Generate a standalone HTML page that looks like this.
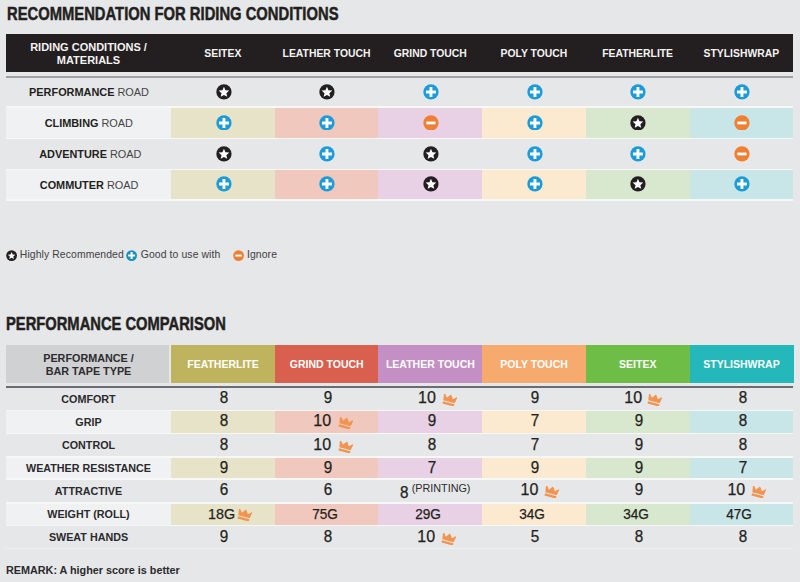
<!DOCTYPE html><html><head><meta charset="utf-8"><style>
*{margin:0;padding:0;box-sizing:border-box}
html,body{width:800px;height:582px;overflow:hidden;background:#e6e7e9;font-family:"Liberation Sans",sans-serif;color:#231f20}
.a{position:absolute}
.title{position:absolute;font-weight:bold;font-size:19px;line-height:1;white-space:nowrap;transform-origin:0 0;color:#231f20;-webkit-text-stroke:0.5px #231f20}
.hd{position:absolute;font-weight:bold;color:#f4f3f2;font-size:10.4px;line-height:12.4px;text-align:center;white-space:nowrap}
.cell{position:absolute;display:flex;align-items:center;justify-content:center;white-space:nowrap}
.lab{font-size:10.9px;color:#444446}
.lab b{color:#231f20}
.t{position:absolute;white-space:nowrap;line-height:1}
.num{font-size:16px;color:#231f20;transform:scaleX(0.95);-webkit-text-stroke:0.25px #231f20}
.hd2{position:absolute;font-weight:bold;color:#fff;font-size:10.5px;padding-top:1px;text-align:center;white-space:nowrap;display:flex;align-items:center;justify-content:center}
.lab2{font-size:10.75px;font-weight:bold;color:#2a2a2c}
</style></head><body>

<div class="title" style="left:7px;top:4.2px;transform:scaleX(0.778)">RECOMMENDATION FOR RIDING CONDITIONS</div>
<div class="a" style="left:6.00px;top:34.00px;width:787.00px;height:38.00px;background:#231f20;"></div>
<div class="hd" style="left:6px;top:41.2px;width:165px;font-size:11px;line-height:12.6px">RIDING CONDITIONS /<br>MATERIALS</div>
<div class="hd" style="left:171.00px;top:48px;width:103.70px">SEITEX</div>
<div class="hd" style="left:274.70px;top:48px;width:103.70px">LEATHER TOUCH</div>
<div class="hd" style="left:378.40px;top:48px;width:103.70px">GRIND TOUCH</div>
<div class="hd" style="left:482.10px;top:48px;width:103.70px">POLY TOUCH</div>
<div class="hd" style="left:585.80px;top:48px;width:103.70px">FEATHERLITE</div>
<div class="hd" style="left:689.50px;top:48px;width:103.70px">STYLISHWRAP</div>
<div class="a" style="left:6.00px;top:76.00px;width:787.00px;height:2.00px;background:#a0a1a3;"></div>
<div class="cell lab" style="left:6.50px;top:78.00px;width:165px;height:28.30px"><span><b>PERFORMANCE</b> ROAD</span></div>
<div class="cell" style="left:171.80px;top:77.60px;width:103.70px;height:28.30px"><svg style="width:15.9px;height:15.9px;display:block" viewBox="0 0 16 16"><circle cx="8" cy="8" r="7.7" fill="#231f20"/><path d="M8.00 2.80 L9.50 6.34 L13.33 6.67 L10.43 9.19 L11.29 12.93 L8.00 10.95 L4.71 12.93 L5.57 9.19 L2.67 6.67 L6.50 6.34 Z" fill="#fff"/></svg></div>
<div class="cell" style="left:275.50px;top:77.60px;width:103.70px;height:28.30px"><svg style="width:15.9px;height:15.9px;display:block" viewBox="0 0 16 16"><circle cx="8" cy="8" r="7.7" fill="#231f20"/><path d="M8.00 2.80 L9.50 6.34 L13.33 6.67 L10.43 9.19 L11.29 12.93 L8.00 10.95 L4.71 12.93 L5.57 9.19 L2.67 6.67 L6.50 6.34 Z" fill="#fff"/></svg></div>
<div class="cell" style="left:379.20px;top:77.60px;width:103.70px;height:28.30px"><svg style="width:15.9px;height:15.9px;display:block" viewBox="0 0 16 16"><circle cx="8" cy="8" r="7.7" fill="#1b9bd7"/><path d="M8 3.0 V13.0 M3.0 8 H13.0" stroke="#fff" stroke-width="2.9"/></svg></div>
<div class="cell" style="left:482.90px;top:77.60px;width:103.70px;height:28.30px"><svg style="width:15.9px;height:15.9px;display:block" viewBox="0 0 16 16"><circle cx="8" cy="8" r="7.7" fill="#1b9bd7"/><path d="M8 3.0 V13.0 M3.0 8 H13.0" stroke="#fff" stroke-width="2.9"/></svg></div>
<div class="cell" style="left:586.60px;top:77.60px;width:103.70px;height:28.30px"><svg style="width:15.9px;height:15.9px;display:block" viewBox="0 0 16 16"><circle cx="8" cy="8" r="7.7" fill="#1b9bd7"/><path d="M8 3.0 V13.0 M3.0 8 H13.0" stroke="#fff" stroke-width="2.9"/></svg></div>
<div class="cell" style="left:690.30px;top:77.60px;width:103.70px;height:28.30px"><svg style="width:15.9px;height:15.9px;display:block" viewBox="0 0 16 16"><circle cx="8" cy="8" r="7.7" fill="#1b9bd7"/><path d="M8 3.0 V13.0 M3.0 8 H13.0" stroke="#fff" stroke-width="2.9"/></svg></div>
<div class="a" style="left:6.00px;top:106.30px;width:787.00px;height:33.20px;background:#f7f8f6;"></div>
<div class="a" style="left:6.00px;top:107.90px;width:165.00px;height:30.00px;background:#f0f1f3;"></div>
<div class="a" style="left:171.00px;top:107.90px;width:104.30px;height:30.00px;background:#e7e3c9;"></div>
<div class="a" style="left:274.70px;top:107.90px;width:104.30px;height:30.00px;background:#f1c8bd;"></div>
<div class="a" style="left:378.40px;top:107.90px;width:104.30px;height:30.00px;background:#e8d0e5;"></div>
<div class="a" style="left:482.10px;top:107.90px;width:104.30px;height:30.00px;background:#fcead0;"></div>
<div class="a" style="left:585.80px;top:107.90px;width:104.30px;height:30.00px;background:#d7e8ce;"></div>
<div class="a" style="left:689.50px;top:107.90px;width:103.70px;height:30.00px;background:#c8e5e7;"></div>
<div class="cell lab" style="left:6.30px;top:106.30px;width:165px;height:33.20px"><span><b>CLIMBING</b> ROAD</span></div>
<div class="cell" style="left:171.80px;top:105.90px;width:103.70px;height:33.20px"><svg style="width:15.9px;height:15.9px;display:block" viewBox="0 0 16 16"><circle cx="8" cy="8" r="7.7" fill="#1b9bd7"/><path d="M8 3.0 V13.0 M3.0 8 H13.0" stroke="#fff" stroke-width="2.9"/></svg></div>
<div class="cell" style="left:275.50px;top:105.90px;width:103.70px;height:33.20px"><svg style="width:15.9px;height:15.9px;display:block" viewBox="0 0 16 16"><circle cx="8" cy="8" r="7.7" fill="#1b9bd7"/><path d="M8 3.0 V13.0 M3.0 8 H13.0" stroke="#fff" stroke-width="2.9"/></svg></div>
<div class="cell" style="left:379.20px;top:105.90px;width:103.70px;height:33.20px"><svg style="width:15.9px;height:15.9px;display:block" viewBox="0 0 16 16"><circle cx="8" cy="8" r="7.7" fill="#ef7f33"/><path d="M3.4 8 H12.6" stroke="#fff" stroke-width="2.8"/></svg></div>
<div class="cell" style="left:482.90px;top:105.90px;width:103.70px;height:33.20px"><svg style="width:15.9px;height:15.9px;display:block" viewBox="0 0 16 16"><circle cx="8" cy="8" r="7.7" fill="#1b9bd7"/><path d="M8 3.0 V13.0 M3.0 8 H13.0" stroke="#fff" stroke-width="2.9"/></svg></div>
<div class="cell" style="left:586.60px;top:105.90px;width:103.70px;height:33.20px"><svg style="width:15.9px;height:15.9px;display:block" viewBox="0 0 16 16"><circle cx="8" cy="8" r="7.7" fill="#231f20"/><path d="M8.00 2.80 L9.50 6.34 L13.33 6.67 L10.43 9.19 L11.29 12.93 L8.00 10.95 L4.71 12.93 L5.57 9.19 L2.67 6.67 L6.50 6.34 Z" fill="#fff"/></svg></div>
<div class="cell" style="left:690.30px;top:105.90px;width:103.70px;height:33.20px"><svg style="width:15.9px;height:15.9px;display:block" viewBox="0 0 16 16"><circle cx="8" cy="8" r="7.7" fill="#ef7f33"/><path d="M3.4 8 H12.6" stroke="#fff" stroke-width="2.8"/></svg></div>
<div class="cell lab" style="left:7.80px;top:139.50px;width:165px;height:29.10px"><span><b>ADVENTURE</b> ROAD</span></div>
<div class="cell" style="left:171.80px;top:139.10px;width:103.70px;height:29.10px"><svg style="width:15.9px;height:15.9px;display:block" viewBox="0 0 16 16"><circle cx="8" cy="8" r="7.7" fill="#231f20"/><path d="M8.00 2.80 L9.50 6.34 L13.33 6.67 L10.43 9.19 L11.29 12.93 L8.00 10.95 L4.71 12.93 L5.57 9.19 L2.67 6.67 L6.50 6.34 Z" fill="#fff"/></svg></div>
<div class="cell" style="left:275.50px;top:139.10px;width:103.70px;height:29.10px"><svg style="width:15.9px;height:15.9px;display:block" viewBox="0 0 16 16"><circle cx="8" cy="8" r="7.7" fill="#1b9bd7"/><path d="M8 3.0 V13.0 M3.0 8 H13.0" stroke="#fff" stroke-width="2.9"/></svg></div>
<div class="cell" style="left:379.20px;top:139.10px;width:103.70px;height:29.10px"><svg style="width:15.9px;height:15.9px;display:block" viewBox="0 0 16 16"><circle cx="8" cy="8" r="7.7" fill="#231f20"/><path d="M8.00 2.80 L9.50 6.34 L13.33 6.67 L10.43 9.19 L11.29 12.93 L8.00 10.95 L4.71 12.93 L5.57 9.19 L2.67 6.67 L6.50 6.34 Z" fill="#fff"/></svg></div>
<div class="cell" style="left:482.90px;top:139.10px;width:103.70px;height:29.10px"><svg style="width:15.9px;height:15.9px;display:block" viewBox="0 0 16 16"><circle cx="8" cy="8" r="7.7" fill="#1b9bd7"/><path d="M8 3.0 V13.0 M3.0 8 H13.0" stroke="#fff" stroke-width="2.9"/></svg></div>
<div class="cell" style="left:586.60px;top:139.10px;width:103.70px;height:29.10px"><svg style="width:15.9px;height:15.9px;display:block" viewBox="0 0 16 16"><circle cx="8" cy="8" r="7.7" fill="#1b9bd7"/><path d="M8 3.0 V13.0 M3.0 8 H13.0" stroke="#fff" stroke-width="2.9"/></svg></div>
<div class="cell" style="left:690.30px;top:139.10px;width:103.70px;height:29.10px"><svg style="width:15.9px;height:15.9px;display:block" viewBox="0 0 16 16"><circle cx="8" cy="8" r="7.7" fill="#ef7f33"/><path d="M3.4 8 H12.6" stroke="#fff" stroke-width="2.8"/></svg></div>
<div class="a" style="left:6.00px;top:168.60px;width:787.00px;height:32.20px;background:#f7f8f6;"></div>
<div class="a" style="left:6.00px;top:170.20px;width:165.00px;height:29.00px;background:#f0f1f3;"></div>
<div class="a" style="left:171.00px;top:170.20px;width:104.30px;height:29.00px;background:#e7e3c9;"></div>
<div class="a" style="left:274.70px;top:170.20px;width:104.30px;height:29.00px;background:#f1c8bd;"></div>
<div class="a" style="left:378.40px;top:170.20px;width:104.30px;height:29.00px;background:#e8d0e5;"></div>
<div class="a" style="left:482.10px;top:170.20px;width:104.30px;height:29.00px;background:#fcead0;"></div>
<div class="a" style="left:585.80px;top:170.20px;width:104.30px;height:29.00px;background:#d7e8ce;"></div>
<div class="a" style="left:689.50px;top:170.20px;width:103.70px;height:29.00px;background:#c8e5e7;"></div>
<div class="cell lab" style="left:6.60px;top:168.60px;width:165px;height:32.20px"><span><b>COMMUTER</b> ROAD</span></div>
<div class="cell" style="left:171.80px;top:168.20px;width:103.70px;height:32.20px"><svg style="width:15.9px;height:15.9px;display:block" viewBox="0 0 16 16"><circle cx="8" cy="8" r="7.7" fill="#1b9bd7"/><path d="M8 3.0 V13.0 M3.0 8 H13.0" stroke="#fff" stroke-width="2.9"/></svg></div>
<div class="cell" style="left:275.50px;top:168.20px;width:103.70px;height:32.20px"><svg style="width:15.9px;height:15.9px;display:block" viewBox="0 0 16 16"><circle cx="8" cy="8" r="7.7" fill="#1b9bd7"/><path d="M8 3.0 V13.0 M3.0 8 H13.0" stroke="#fff" stroke-width="2.9"/></svg></div>
<div class="cell" style="left:379.20px;top:168.20px;width:103.70px;height:32.20px"><svg style="width:15.9px;height:15.9px;display:block" viewBox="0 0 16 16"><circle cx="8" cy="8" r="7.7" fill="#231f20"/><path d="M8.00 2.80 L9.50 6.34 L13.33 6.67 L10.43 9.19 L11.29 12.93 L8.00 10.95 L4.71 12.93 L5.57 9.19 L2.67 6.67 L6.50 6.34 Z" fill="#fff"/></svg></div>
<div class="cell" style="left:482.90px;top:168.20px;width:103.70px;height:32.20px"><svg style="width:15.9px;height:15.9px;display:block" viewBox="0 0 16 16"><circle cx="8" cy="8" r="7.7" fill="#1b9bd7"/><path d="M8 3.0 V13.0 M3.0 8 H13.0" stroke="#fff" stroke-width="2.9"/></svg></div>
<div class="cell" style="left:586.60px;top:168.20px;width:103.70px;height:32.20px"><svg style="width:15.9px;height:15.9px;display:block" viewBox="0 0 16 16"><circle cx="8" cy="8" r="7.7" fill="#231f20"/><path d="M8.00 2.80 L9.50 6.34 L13.33 6.67 L10.43 9.19 L11.29 12.93 L8.00 10.95 L4.71 12.93 L5.57 9.19 L2.67 6.67 L6.50 6.34 Z" fill="#fff"/></svg></div>
<div class="cell" style="left:690.30px;top:168.20px;width:103.70px;height:32.20px"><svg style="width:15.9px;height:15.9px;display:block" viewBox="0 0 16 16"><circle cx="8" cy="8" r="7.7" fill="#1b9bd7"/><path d="M8 3.0 V13.0 M3.0 8 H13.0" stroke="#fff" stroke-width="2.9"/></svg></div>
<div class="a" style="left:5.6px;top:250.0px"><svg style="width:11.2px;height:11.2px;display:block" viewBox="0 0 16 16"><circle cx="8" cy="8" r="7.7" fill="#231f20"/><path d="M8.00 2.80 L9.50 6.34 L13.33 6.67 L10.43 9.19 L11.29 12.93 L8.00 10.95 L4.71 12.93 L5.57 9.19 L2.67 6.67 L6.50 6.34 Z" fill="#fff"/></svg></div>
<div class="t" style="left:19.8px;top:250.2px;font-size:10.4px;letter-spacing:0.1px;color:#404042">Highly Recommended</div>
<div class="a" style="left:126.4px;top:250.4px"><svg style="width:11.2px;height:11.2px;display:block" viewBox="0 0 16 16"><circle cx="8" cy="8" r="7.7" fill="#1a8fba"/><path d="M8 3.0 V13.0 M3.0 8 H13.0" stroke="#fff" stroke-width="2.9"/></svg></div>
<div class="t" style="left:140.8px;top:250.2px;font-size:10.4px;letter-spacing:0.1px;color:#404042">Good to use with</div>
<div class="a" style="left:233px;top:250.3px"><svg style="width:11.2px;height:11.2px;display:block" viewBox="0 0 16 16"><circle cx="8" cy="8" r="7.7" fill="#ef7f33"/><path d="M3.4 8 H12.6" stroke="#fff" stroke-width="2.8"/></svg></div>
<div class="t" style="left:247px;top:250.2px;font-size:10.4px;letter-spacing:0.1px;color:#404042">Ignore</div>
<div class="title" style="left:6px;top:313.6px;transform:scaleX(0.775)">PERFORMANCE COMPARISON</div>
<div class="a" style="left:6.00px;top:344.70px;width:162.50px;height:38.30px;background:#d0d1d3;"></div>
<div class="hd" style="left:6px;top:351.5px;width:165px;color:#2d2d2f;line-height:13px;font-size:10.8px">PERFORMANCE /<br>BAR TAPE TYPE</div>
<div class="hd2" style="left:171.00px;top:344.7px;width:104.00px;height:38.3px;background:#bfb35d">FEATHERLITE</div>
<div class="hd2" style="left:274.70px;top:344.7px;width:104.00px;height:38.3px;background:#d9604f">GRIND TOUCH</div>
<div class="hd2" style="left:378.40px;top:344.7px;width:104.00px;height:38.3px;background:#c38fc4">LEATHER TOUCH</div>
<div class="hd2" style="left:482.10px;top:344.7px;width:104.00px;height:38.3px;background:#f6aa6d">POLY TOUCH</div>
<div class="hd2" style="left:585.80px;top:344.7px;width:104.00px;height:38.3px;background:#6ebd46">SEITEX</div>
<div class="hd2" style="left:689.50px;top:344.7px;width:104.00px;height:38.3px;background:#24b8bb">STYLISHWRAP</div>
<div class="a" style="left:6.00px;top:386.00px;width:787.00px;height:2.20px;background:#6b6c6f;"></div>
<div class="cell lab2" style="left:6px;top:388.20px;width:165px;height:21.40px">COMFORT</div>
<div class="t num" style="font-size:16px;left:174.25px;width:100px;text-align:center;top:390.20px">8</div>
<div class="t num" style="font-size:16px;left:277.95px;width:100px;text-align:center;top:390.20px">9</div>
<div class="t num" style="font-size:16px;left:418.05px;top:390.20px;transform:none">10</div>
<svg style="position:absolute;width:17px;height:12px;left:440.70px;top:394.10px" viewBox="0 0 15 11"><g transform="rotate(15 7.5 5.5)" fill="#f19450"><path d="M1.2 1.6 Q1.3 0.5 2.2 1.1 L4.7 4 L6.7 1.1 Q7.5 0.2 8.3 1.1 L10.3 4 L12.8 1.6 Q13.9 0.9 13.8 2 L12.9 7.2 H2.1 Z"/><path d="M2.1 8.1 H12.9 V10.3 H2.1 Z"/></g></svg>
<div class="t num" style="font-size:16px;left:485.35px;width:100px;text-align:center;top:390.20px">9</div>
<div class="t num" style="font-size:16px;left:624.30px;top:390.20px;transform:none">10</div>
<svg style="position:absolute;width:17px;height:12px;left:646.30px;top:394.10px" viewBox="0 0 15 11"><g transform="rotate(15 7.5 5.5)" fill="#f19450"><path d="M1.2 1.6 Q1.3 0.5 2.2 1.1 L4.7 4 L6.7 1.1 Q7.5 0.2 8.3 1.1 L10.3 4 L12.8 1.6 Q13.9 0.9 13.8 2 L12.9 7.2 H2.1 Z"/><path d="M2.1 8.1 H12.9 V10.3 H2.1 Z"/></g></svg>
<div class="t num" style="font-size:16px;left:692.75px;width:100px;text-align:center;top:390.20px">8</div>
<div class="a" style="left:6.00px;top:409.60px;width:787.00px;height:24.80px;background:#f7f8f6;"></div>
<div class="a" style="left:6.00px;top:411.20px;width:165.00px;height:21.60px;background:#f0f1f3;"></div>
<div class="a" style="left:171.00px;top:411.20px;width:104.30px;height:21.60px;background:#e7e3c9;"></div>
<div class="a" style="left:274.70px;top:411.20px;width:104.30px;height:21.60px;background:#f1c8bd;"></div>
<div class="a" style="left:378.40px;top:411.20px;width:104.30px;height:21.60px;background:#e8d0e5;"></div>
<div class="a" style="left:482.10px;top:411.20px;width:104.30px;height:21.60px;background:#fcead0;"></div>
<div class="a" style="left:585.80px;top:411.20px;width:104.30px;height:21.60px;background:#d7e8ce;"></div>
<div class="a" style="left:689.50px;top:411.20px;width:103.70px;height:21.60px;background:#c8e5e7;"></div>
<div class="cell lab2" style="left:6px;top:409.60px;width:165px;height:24.80px">GRIP</div>
<div class="t num" style="font-size:16px;left:174.25px;width:100px;text-align:center;top:413.30px">8</div>
<div class="t num" style="font-size:16px;left:313.30px;top:413.30px;transform:none">10</div>
<svg style="position:absolute;width:17px;height:12px;left:337.30px;top:417.20px" viewBox="0 0 15 11"><g transform="rotate(15 7.5 5.5)" fill="#f19450"><path d="M1.2 1.6 Q1.3 0.5 2.2 1.1 L4.7 4 L6.7 1.1 Q7.5 0.2 8.3 1.1 L10.3 4 L12.8 1.6 Q13.9 0.9 13.8 2 L12.9 7.2 H2.1 Z"/><path d="M2.1 8.1 H12.9 V10.3 H2.1 Z"/></g></svg>
<div class="t num" style="font-size:16px;left:381.65px;width:100px;text-align:center;top:413.30px">9</div>
<div class="t num" style="font-size:16px;left:485.35px;width:100px;text-align:center;top:413.30px">7</div>
<div class="t num" style="font-size:16px;left:589.05px;width:100px;text-align:center;top:413.30px">9</div>
<div class="t num" style="font-size:16px;left:692.75px;width:100px;text-align:center;top:413.30px">8</div>
<div class="cell lab2" style="left:6px;top:434.40px;width:165px;height:22.00px">CONTROL</div>
<div class="t num" style="font-size:16px;left:174.25px;width:100px;text-align:center;top:436.70px">8</div>
<div class="t num" style="font-size:16px;left:313.30px;top:436.70px;transform:none">10</div>
<svg style="position:absolute;width:17px;height:12px;left:337.30px;top:440.60px" viewBox="0 0 15 11"><g transform="rotate(15 7.5 5.5)" fill="#f19450"><path d="M1.2 1.6 Q1.3 0.5 2.2 1.1 L4.7 4 L6.7 1.1 Q7.5 0.2 8.3 1.1 L10.3 4 L12.8 1.6 Q13.9 0.9 13.8 2 L12.9 7.2 H2.1 Z"/><path d="M2.1 8.1 H12.9 V10.3 H2.1 Z"/></g></svg>
<div class="t num" style="font-size:16px;left:381.65px;width:100px;text-align:center;top:436.70px">8</div>
<div class="t num" style="font-size:16px;left:485.35px;width:100px;text-align:center;top:436.70px">7</div>
<div class="t num" style="font-size:16px;left:589.05px;width:100px;text-align:center;top:436.70px">9</div>
<div class="t num" style="font-size:16px;left:692.75px;width:100px;text-align:center;top:436.70px">8</div>
<div class="a" style="left:6.00px;top:456.40px;width:787.00px;height:23.60px;background:#f7f8f6;"></div>
<div class="a" style="left:6.00px;top:458.00px;width:165.00px;height:20.40px;background:#f0f1f3;"></div>
<div class="a" style="left:171.00px;top:458.00px;width:104.30px;height:20.40px;background:#e7e3c9;"></div>
<div class="a" style="left:274.70px;top:458.00px;width:104.30px;height:20.40px;background:#f1c8bd;"></div>
<div class="a" style="left:378.40px;top:458.00px;width:104.30px;height:20.40px;background:#e8d0e5;"></div>
<div class="a" style="left:482.10px;top:458.00px;width:104.30px;height:20.40px;background:#fcead0;"></div>
<div class="a" style="left:585.80px;top:458.00px;width:104.30px;height:20.40px;background:#d7e8ce;"></div>
<div class="a" style="left:689.50px;top:458.00px;width:103.70px;height:20.40px;background:#c8e5e7;"></div>
<div class="cell lab2" style="left:6px;top:456.40px;width:165px;height:23.60px">WEATHER RESISTANCE</div>
<div class="t num" style="font-size:16px;left:174.25px;width:100px;text-align:center;top:459.50px">9</div>
<div class="t num" style="font-size:16px;left:277.95px;width:100px;text-align:center;top:459.50px">9</div>
<div class="t num" style="font-size:16px;left:381.65px;width:100px;text-align:center;top:459.50px">7</div>
<div class="t num" style="font-size:16px;left:485.35px;width:100px;text-align:center;top:459.50px">9</div>
<div class="t num" style="font-size:16px;left:589.05px;width:100px;text-align:center;top:459.50px">9</div>
<div class="t num" style="font-size:16px;left:692.75px;width:100px;text-align:center;top:459.50px">7</div>
<div class="cell lab2" style="left:6px;top:480.00px;width:165px;height:21.90px">ATTRACTIVE</div>
<div class="t num" style="font-size:16px;left:174.25px;width:100px;text-align:center;top:482.25px">6</div>
<div class="t num" style="font-size:16px;left:277.95px;width:100px;text-align:center;top:482.25px">6</div>
<div class="t num" style="left:400.25px;top:484.55px;transform-origin:0 50%">8</div>
<div class="t" style="left:411.65px;top:482.95px;font-size:10.8px;color:#2a2a2c">(PRINTING)</div>
<div class="t num" style="font-size:16px;left:520.55px;top:482.25px;transform:none">10</div>
<svg style="position:absolute;width:17px;height:12px;left:543.20px;top:486.15px" viewBox="0 0 15 11"><g transform="rotate(15 7.5 5.5)" fill="#f19450"><path d="M1.2 1.6 Q1.3 0.5 2.2 1.1 L4.7 4 L6.7 1.1 Q7.5 0.2 8.3 1.1 L10.3 4 L12.8 1.6 Q13.9 0.9 13.8 2 L12.9 7.2 H2.1 Z"/><path d="M2.1 8.1 H12.9 V10.3 H2.1 Z"/></g></svg>
<div class="t num" style="font-size:16px;left:589.05px;width:100px;text-align:center;top:482.25px">9</div>
<div class="t num" style="font-size:16px;left:727.40px;top:482.25px;transform:none">10</div>
<svg style="position:absolute;width:17px;height:12px;left:750.05px;top:486.15px" viewBox="0 0 15 11"><g transform="rotate(15 7.5 5.5)" fill="#f19450"><path d="M1.2 1.6 Q1.3 0.5 2.2 1.1 L4.7 4 L6.7 1.1 Q7.5 0.2 8.3 1.1 L10.3 4 L12.8 1.6 Q13.9 0.9 13.8 2 L12.9 7.2 H2.1 Z"/><path d="M2.1 8.1 H12.9 V10.3 H2.1 Z"/></g></svg>
<div class="a" style="left:6.00px;top:501.90px;width:787.00px;height:24.60px;background:#f7f8f6;"></div>
<div class="a" style="left:6.00px;top:503.50px;width:165.00px;height:21.40px;background:#f0f1f3;"></div>
<div class="a" style="left:171.00px;top:503.50px;width:104.30px;height:21.40px;background:#e7e3c9;"></div>
<div class="a" style="left:274.70px;top:503.50px;width:104.30px;height:21.40px;background:#f1c8bd;"></div>
<div class="a" style="left:378.40px;top:503.50px;width:104.30px;height:21.40px;background:#e8d0e5;"></div>
<div class="a" style="left:482.10px;top:503.50px;width:104.30px;height:21.40px;background:#fcead0;"></div>
<div class="a" style="left:585.80px;top:503.50px;width:104.30px;height:21.40px;background:#d7e8ce;"></div>
<div class="a" style="left:689.50px;top:503.50px;width:103.70px;height:21.40px;background:#c8e5e7;"></div>
<div class="cell lab2" style="left:6px;top:501.90px;width:165px;height:24.60px">WEIGHT (ROLL)</div>
<div class="t num" style="font-size:14.3px;left:208.05px;top:506.90px;transform:none">18G</div>
<svg style="position:absolute;width:17px;height:12px;left:236.30px;top:509.40px" viewBox="0 0 15 11"><g transform="rotate(15 7.5 5.5)" fill="#f19450"><path d="M1.2 1.6 Q1.3 0.5 2.2 1.1 L4.7 4 L6.7 1.1 Q7.5 0.2 8.3 1.1 L10.3 4 L12.8 1.6 Q13.9 0.9 13.8 2 L12.9 7.2 H2.1 Z"/><path d="M2.1 8.1 H12.9 V10.3 H2.1 Z"/></g></svg>
<div class="t num" style="font-size:14.3px;left:274.55px;width:100px;text-align:center;top:506.90px">75G</div>
<div class="t num" style="font-size:14.3px;left:378.25px;width:100px;text-align:center;top:506.90px">29G</div>
<div class="t num" style="font-size:14.3px;left:481.95px;width:100px;text-align:center;top:506.90px">34G</div>
<div class="t num" style="font-size:14.3px;left:585.65px;width:100px;text-align:center;top:506.90px">34G</div>
<div class="t num" style="font-size:14.3px;left:689.35px;width:100px;text-align:center;top:506.90px">47G</div>
<div class="cell lab2" style="left:6px;top:526.50px;width:165px;height:21.80px">SWEAT HANDS</div>
<div class="t num" style="font-size:16px;left:174.25px;width:100px;text-align:center;top:528.70px">9</div>
<div class="t num" style="font-size:16px;left:277.95px;width:100px;text-align:center;top:528.70px">8</div>
<div class="t num" style="font-size:16px;left:417.30px;top:528.70px;transform:none">10</div>
<svg style="position:absolute;width:17px;height:12px;left:439.80px;top:532.60px" viewBox="0 0 15 11"><g transform="rotate(15 7.5 5.5)" fill="#f19450"><path d="M1.2 1.6 Q1.3 0.5 2.2 1.1 L4.7 4 L6.7 1.1 Q7.5 0.2 8.3 1.1 L10.3 4 L12.8 1.6 Q13.9 0.9 13.8 2 L12.9 7.2 H2.1 Z"/><path d="M2.1 8.1 H12.9 V10.3 H2.1 Z"/></g></svg>
<div class="t num" style="font-size:16px;left:485.35px;width:100px;text-align:center;top:528.70px">5</div>
<div class="t num" style="font-size:16px;left:589.05px;width:100px;text-align:center;top:528.70px">8</div>
<div class="t num" style="font-size:16px;left:692.75px;width:100px;text-align:center;top:528.70px">8</div>
<div class="a" style="left:6.00px;top:548.30px;width:787.00px;height:1.00px;background:#eeeff0;"></div>
<div class="t" style="left:6px;top:565px;font-size:10.8px;font-weight:bold;color:#2a2a2c">REMARK: A higher score is better</div>
</body></html>
